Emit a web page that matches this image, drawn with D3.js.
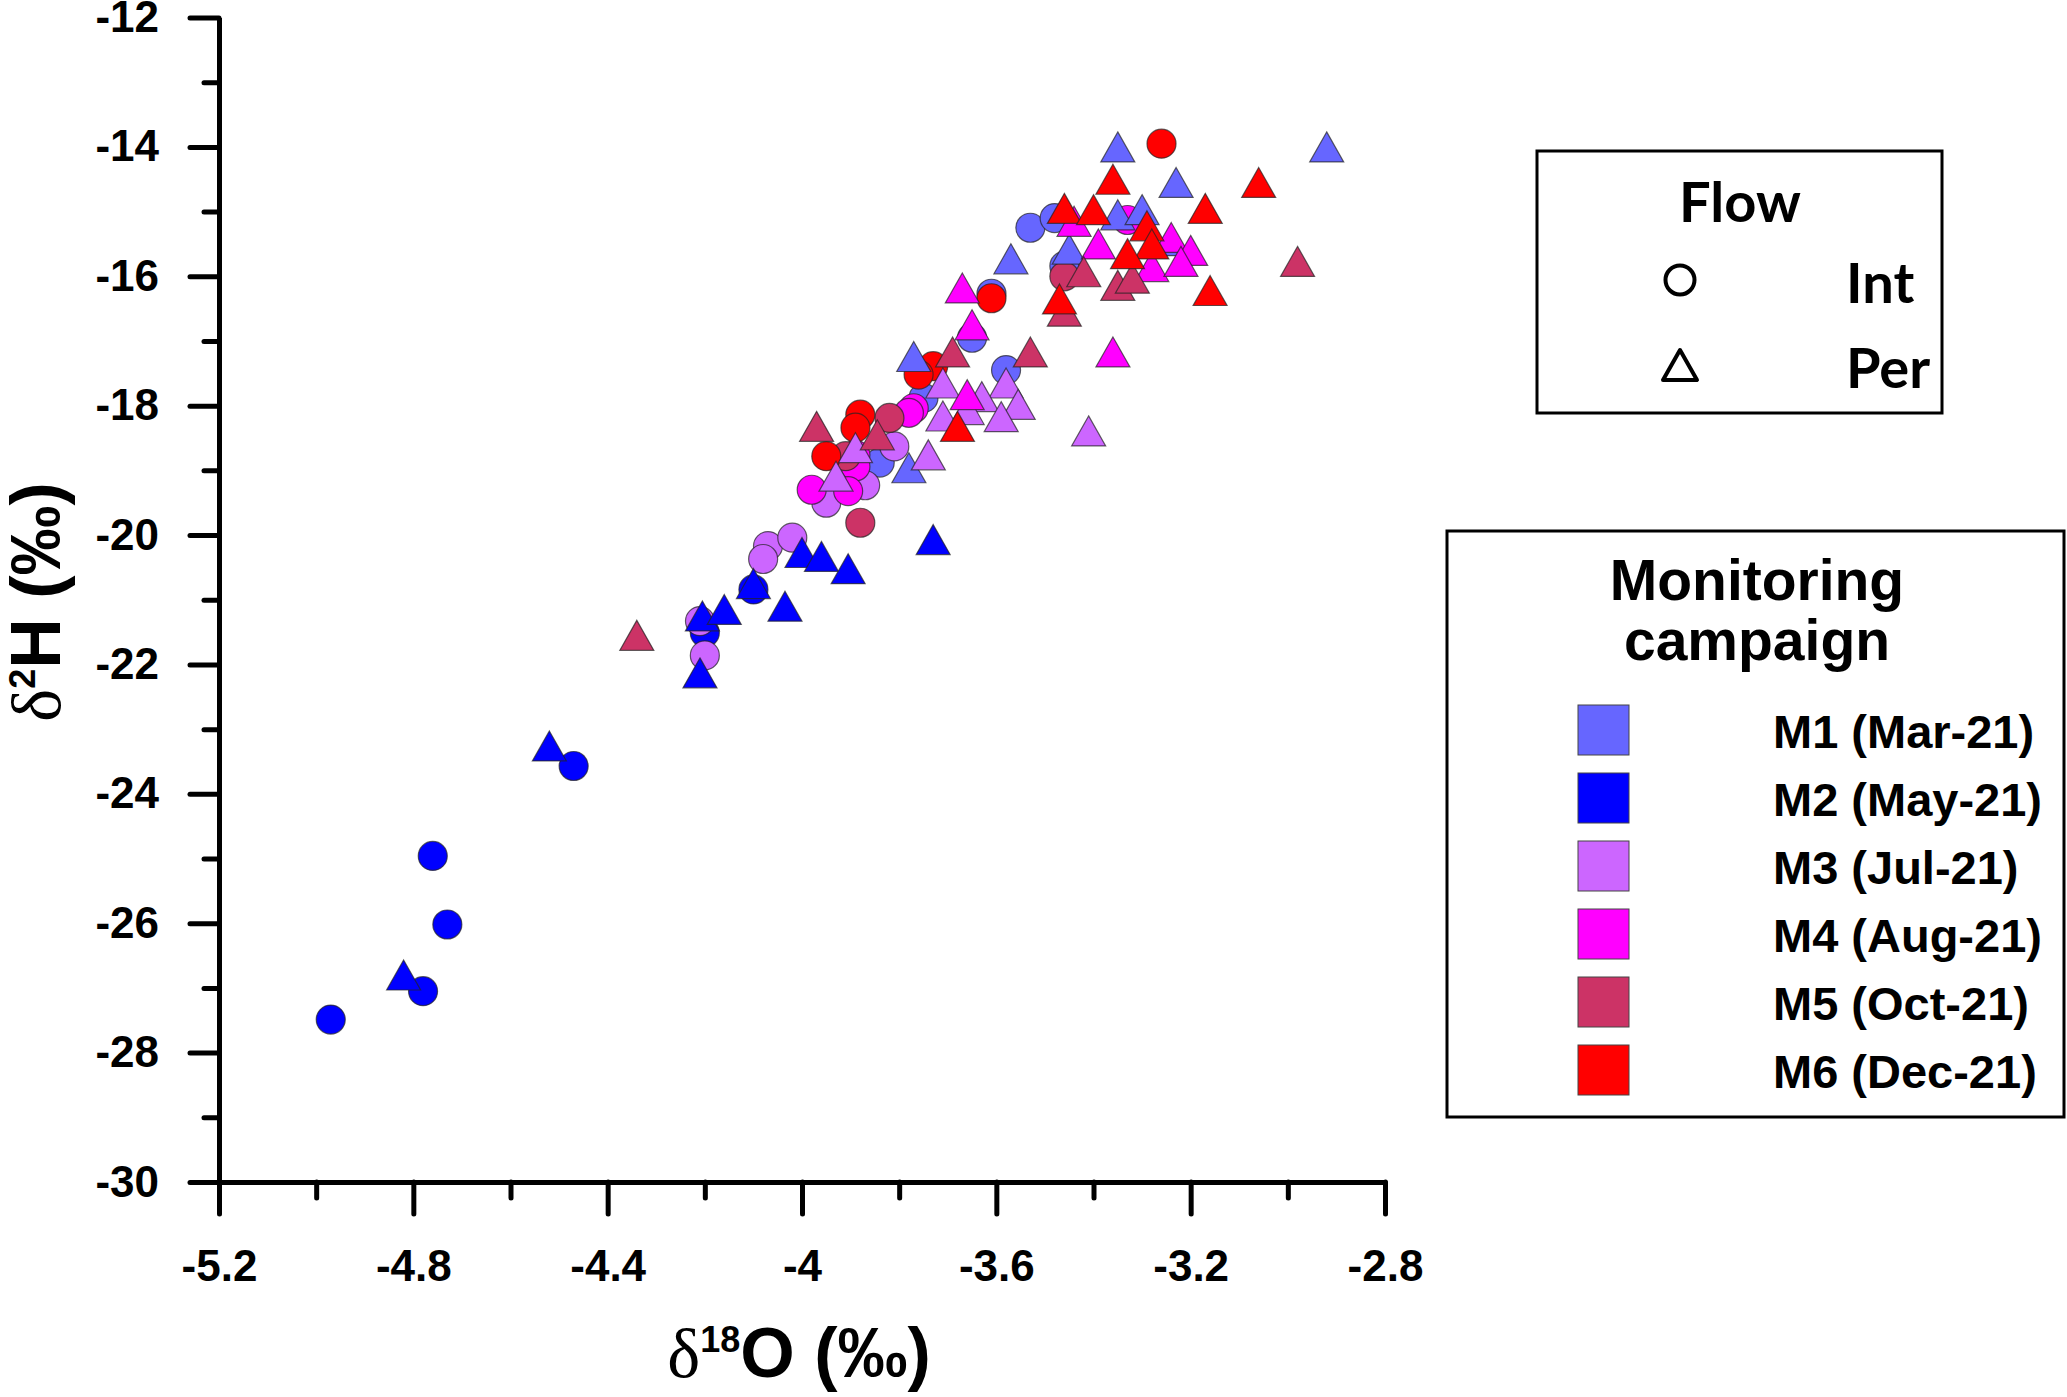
<!DOCTYPE html>
<html>
<head>
<meta charset="utf-8">
<script src="https://cdn.jsdelivr.net/npm/d3@7"></script>
<style>
  body { margin: 0; background: #fff; }
  svg { display: block; }
</style>
</head>
<body>
<div id="chart"></div>
<script>
// campaigns and their colours
var campaigns = ["M1 (Mar-21)", "M2 (May-21)", "M3 (Jul-21)", "M4 (Aug-21)", "M5 (Oct-21)", "M6 (Dec-21)"];
var colors = ["#6666ff", "#0000ff", "#cc66ff", "#ff00ff", "#cc3366", "#ff0000"];
var flows = ["Int", "Per"];

// [d18O, d2H] pairs
var m1Int = [[-3.53,-15.25],[-3.48,-15.1],[-3.46,-15.84],[-3.61,-16.27],[-3.65,-16.95],[-3.58,-17.45],[-3.75,-17.88],[-3.84,-18.88]];
var m1Per = [[-3.35,-14.0],[-2.92,-14.0],[-3.23,-14.55],[-3.35,-15.05],[-3.30,-14.97],[-3.24,-15.45],[-3.45,-15.58],[-3.57,-15.73],[-3.77,-17.24],[-3.78,-18.96]];
var m2Int = [[-4.97,-27.49],[-4.78,-27.05],[-4.76,-24.96],[-4.73,-26.02],[-4.47,-23.57],[-4.2,-21.51],[-4.1,-20.84]];
var m2Per = [[-4.82,-26.8],[-4.52,-23.26],[-4.21,-22.13],[-4.205,-21.25],[-4.16,-21.15],[-4.1,-20.75],[-4.035,-21.1],[-4.0,-20.27],[-3.96,-20.33],[-3.905,-20.52],[-3.73,-20.07]];
var m3Int = [[-4.21,-21.33],[-4.2,-21.86],[-4.07,-20.17],[-4.08,-20.37],[-4.02,-20.04],[-3.95,-19.5],[-3.87,-19.23],[-3.81,-18.63]];
var m3Per = [[-3.58,-17.65],[-3.71,-17.65],[-3.63,-17.86],[-3.66,-18.06],[-3.555,-17.98],[-3.59,-18.17],[-3.71,-18.16],[-3.41,-18.39],[-3.89,-18.65],[-3.74,-18.76],[-3.93,-19.09]];
var m4Int = [[-3.33,-15.13],[-3.77,-18.04],[-3.78,-18.11],[-3.89,-18.76],[-3.89,-18.94],[-3.98,-19.3],[-3.905,-19.32]];
var m4Per = [[-3.44,-15.15],[-3.24,-15.4],[-3.20,-15.6],[-3.28,-15.85],[-3.22,-15.77],[-3.39,-15.5],[-3.67,-16.18],[-3.65,-16.75],[-3.36,-17.17],[-3.66,-17.83]];
var m5Int = [[-3.46,-16.0],[-3.82,-18.19],[-3.91,-18.78],[-3.88,-19.81]];
var m5Per = [[-3.42,-15.93],[-3.35,-16.14],[-3.32,-16.03],[-2.98,-15.77],[-3.46,-16.54],[-3.69,-17.17],[-3.53,-17.17],[-3.97,-18.32],[-3.845,-18.45],[-4.34,-21.55]];
var m6Int = [[-3.26,-13.95],[-3.61,-16.34],[-3.73,-17.39],[-3.76,-17.52],[-3.88,-18.14],[-3.89,-18.34],[-3.95,-18.78]];
var m6Per = [[-3.36,-14.5],[-3.06,-14.55],[-3.17,-14.95],[-3.46,-14.95],[-3.40,-14.97],[-3.29,-15.22],[-3.28,-15.5],[-3.33,-15.65],[-3.16,-16.22],[-3.47,-16.35],[-3.68,-18.32]];

var intSeries = [m1Int, m2Int, m3Int, m4Int, m5Int, m6Int];
var perSeries = [m1Per, m2Per, m3Per, m4Per, m5Per, m6Per];

var xTicks = [-5.2, -4.8, -4.4, -4, -3.6, -3.2, -2.8];
var xMinor = [-5.0, -4.6, -4.2, -3.8, -3.4, -3.0];
var yTicks = [-30, -28, -26, -24, -22, -20, -18, -16, -14, -12];
var yMinor = [-29, -27, -25, -23, -21, -19, -17, -15, -13];

var W = 2067, H = 1397;
var svg = d3.select("#chart").append("svg")
    .attr("width", W)
    .attr("height", H);

var x = d3.scaleLinear().domain([-5.2, -2.8]).range([219, 1385]),
    y = d3.scaleLinear().domain([-30, -12]).range([1182, 17.5]);

var sans = "Arial, 'Liberation Sans', sans-serif";
var serif = "'Liberation Serif', 'Times New Roman', serif";

// axes
function styleAxis(g) {
  g.select(".domain").attr("stroke", "#000").attr("stroke-width", 5);
  g.selectAll(".tick line").attr("stroke", "#000").attr("stroke-width", 5).attr("stroke-linecap", "round");
  g.selectAll("text").attr("font-family", sans).attr("font-weight", "bold")
    .attr("font-size", 44).attr("fill", "#000");
}

svg.append("g")
    .attr("transform", "translate(0," + y(-30) + ")")
    .call(d3.axisBottom(x).tickValues(xMinor).tickSize(16).tickSizeOuter(0).tickFormat(""))
    .call(styleAxis);
svg.append("g")
    .attr("transform", "translate(0," + y(-30) + ")")
    .call(d3.axisBottom(x).tickValues(xTicks).tickSize(32).tickSizeOuter(0).tickPadding(36)
      .tickFormat(function(d) { return String(d); }))
    .call(styleAxis);

svg.append("g")
    .attr("transform", "translate(" + x(-5.2) + ",0)")
    .call(d3.axisLeft(y).tickValues(yMinor).tickSize(15).tickSizeOuter(0).tickFormat(""))
    .call(styleAxis);
svg.append("g")
    .attr("transform", "translate(" + x(-5.2) + ",0)")
    .call(d3.axisLeft(y).tickValues(yTicks).tickSize(29).tickSizeOuter(0).tickPadding(31)
      .tickFormat(function(d) { return String(d); }))
    .call(styleAxis);

// axis titles
var xt = svg.append("text")
    .attr("x", 799).attr("y", 1377)
    .attr("text-anchor", "middle")
    .attr("font-family", sans).attr("font-weight", "bold").attr("font-size", 70);
xt.append("tspan").attr("font-family", serif).attr("font-weight", "normal").text("δ");
xt.append("tspan").attr("font-size", 36).attr("dy", -25).text("18");
xt.append("tspan").attr("dy", 25).text("O (‰)");

var yt = svg.append("text")
    .attr("transform", "translate(60,602) rotate(-90)")
    .attr("text-anchor", "middle")
    .attr("font-family", sans).attr("font-weight", "bold").attr("font-size", 70);
yt.append("tspan").attr("font-family", serif).attr("font-weight", "normal").text("δ");
yt.append("tspan").attr("font-size", 36).attr("dy", -25).text("2");
yt.append("tspan").attr("dy", 25).text("H (‰)");

// markers
var triPath = "M0,-15L17,15L-17,15Z";
var plot = svg.append("g");

intSeries.forEach(function(s, i) {
  plot.selectAll(".int" + i)
    .data(s)
    .enter().append("circle")
      .attr("class", "int" + i)
      .attr("cx", function(d) { return x(d[0]); })
      .attr("cy", function(d) { return y(d[1]); })
      .attr("r", 14.5)
      .attr("fill", colors[i])
      .attr("stroke", "#222")
      .attr("stroke-opacity", 0.7)
      .attr("stroke-width", 1.2);
});

perSeries.forEach(function(s, i) {
  plot.selectAll(".per" + i)
    .data(s)
    .enter().append("path")
      .attr("class", "per" + i)
      .attr("d", triPath)
      .attr("transform", function(d) { return "translate(" + x(d[0]) + "," + y(d[1]) + ")"; })
      .attr("fill", colors[i])
      .attr("stroke", "#222")
      .attr("stroke-opacity", 0.7)
      .attr("stroke-width", 1.2);
});

// flow legend
var calib = "Lato, 'Open Sans', sans-serif";
var fl = svg.append("g");
fl.append("rect")
    .attr("x", 1537).attr("y", 151).attr("width", 405).attr("height", 262)
    .attr("fill", "none").attr("stroke", "#000").attr("stroke-width", 3);
fl.append("text")
    .attr("x", 1740).attr("y", 222).attr("text-anchor", "middle")
    .attr("font-family", calib).attr("font-weight", "bold").attr("font-size", 56)
    .text("Flow");
flows.forEach(function(f, i) {
  var cy = 280 + i * 85;
  if (i === 0) {
    fl.append("circle").attr("cx", 1680).attr("cy", cy).attr("r", 14.5)
      .attr("fill", "none").attr("stroke", "#000").attr("stroke-width", 4);
  } else {
    fl.append("path").attr("d", triPath)
      .attr("transform", "translate(1680," + cy + ")")
      .attr("fill", "none").attr("stroke", "#000").attr("stroke-width", 4).attr("stroke-linejoin", "round");
  }
  fl.append("text")
    .attr("x", 1846).attr("y", cy + 23)
    .attr("font-family", calib).attr("font-weight", "bold").attr("font-size", 56)
    .text(f);
});

// campaign legend
var cl = svg.append("g");
cl.append("rect")
    .attr("x", 1447).attr("y", 531).attr("width", 617).attr("height", 586)
    .attr("fill", "none").attr("stroke", "#000").attr("stroke-width", 3);
cl.append("text")
    .attr("x", 1757).attr("y", 600).attr("text-anchor", "middle")
    .attr("font-family", sans).attr("font-weight", "bold").attr("font-size", 57)
    .text("Monitoring");
cl.append("text")
    .attr("x", 1757).attr("y", 660).attr("text-anchor", "middle")
    .attr("font-family", sans).attr("font-weight", "bold").attr("font-size", 57)
    .text("campaign");

var items = cl.selectAll(".item")
    .data(campaigns)
    .enter().append("g")
      .attr("class", "item")
      .attr("transform", function(d, i) { return "translate(0," + (705 + i * 68) + ")"; });
items.append("rect")
    .attr("x", 1578).attr("y", 0).attr("width", 51).attr("height", 50)
    .attr("fill", function(d, i) { return colors[i]; })
    .attr("stroke", "#444").attr("stroke-width", 1);
items.append("text")
    .attr("x", 1773).attr("y", 43)
    .attr("font-family", sans).attr("font-weight", "bold").attr("font-size", 47)
    .text(function(d) { return d; });
</script>
</body>
</html>
